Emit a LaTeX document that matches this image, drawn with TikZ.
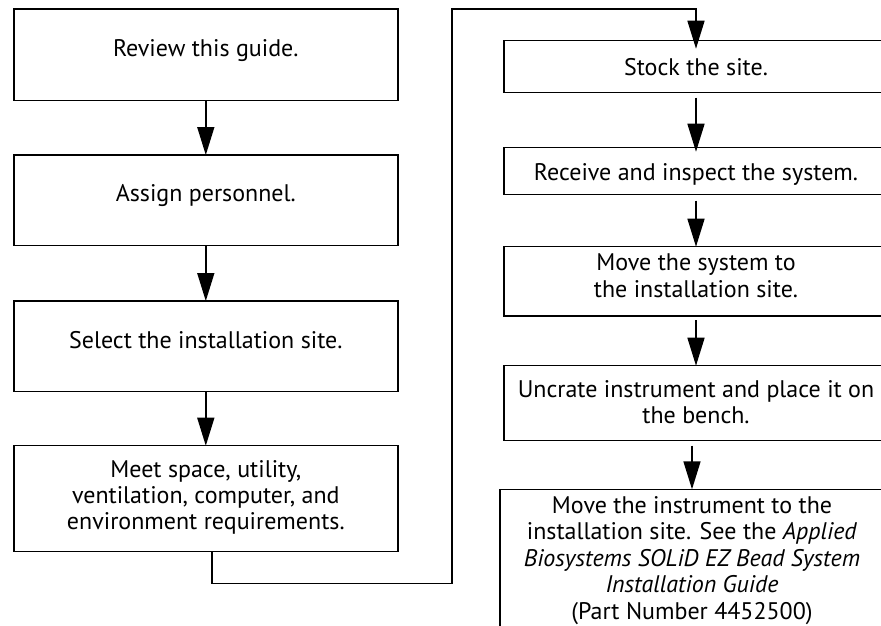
\documentclass[tikz,border=0pt]{standalone}
\usepackage{fontspec}
\setmainfont{PT Sans}
\usetikzlibrary{arrows.meta}
\begin{document}
\begin{tikzpicture}[x=1pt,y=-1pt,
  box/.style={draw, line width=1.5pt, minimum width=384pt, inner sep=0pt, outer sep=0pt},
  txt/.style={anchor=base, align=center, inner sep=0pt, font=\fontsize{24}{26.4}\selectfont},
  arr/.style={line width=1.5pt, -{Triangle[width=17pt,length=28pt]}},
  conn/.style={line width=1.5pt}]
\useasboundingbox (0,0) rectangle (881,625);
\clip (0,0) rectangle (881,625);
% left column boxes
\node[box, minimum height=91.7pt] (b1) at (205.8,54.85) {};
\node[box, minimum height=90.7pt] (b2) at (205.8,200.35) {};
\node[box, minimum height=90.7pt] (b3) at (205.8,346.35) {};
\node[box, minimum height=106pt] (b4) at (205.8,498.7) {};
% right column boxes
\node[box, minimum height=52pt] (b5) at (696,66.7) {};
\node[box, minimum height=47pt] (b6) at (696,171.2) {};
\node[box, minimum height=69.3pt] (b7) at (696,281.35) {};
\node[box, minimum height=75pt] (b8) at (696,403.2) {};
\node[box, minimum height=150.7pt] (b9) at (692,564.65) {};
% texts (anchor = baseline of the last line)
\node[txt] (t1) at (205.8,56) {Review this guide.};
\node[txt] (t2) at (205.8,201.7) {Assign personnel.};
\node[txt] (t3) at (205.8,348.3) {Select the installation site.};
\node[txt] (t4) at (205.8,529.8) {Meet space, utility,\\ventilation, computer, and\\environment requirements.};
\node[txt] (t5) at (696,75) {Stock the site.};
\node[txt] (t6) at (696,180) {Receive and inspect the system.};
\node[txt] (t7) at (696,297.1) {Move the system to\\the installation site.};
\node[txt] (t8) at (696,423.7) {Uncrate instrument and place it on\\the bench.};
\node[txt] (t9) at (692,619.1) {Move the instrument to the\\installation site. See the \textit{Applied}\\\textit{Biosystems SOLiD EZ Bead System}\\\textit{Installation Guide}\\(Part Number 4452500)};
% connectors
\draw[arr] (b1) -- (b2);
\draw[arr] (b2) -- (b3);
\draw[arr] (b3) -- (b4);
\coordinate (c1) at (452,583.7);
\coordinate (c2) at (452,9);
\draw[arr, shorten >=-8pt] ([xshift=6pt]b4.south) |- (c1) -- (c2) -| (b5.north);
\draw[arr, shorten <=5pt, shorten >=-4pt] (b5) -- (b6);
\draw[arr, shorten <=6pt] (b6) -- (b7);
\draw[arr, shorten <=4pt] (b7) -- (b8);
\draw[arr, shorten <=5pt] (b8.south -| b9.north) -- (b9.north);
\end{tikzpicture}
\end{document}
